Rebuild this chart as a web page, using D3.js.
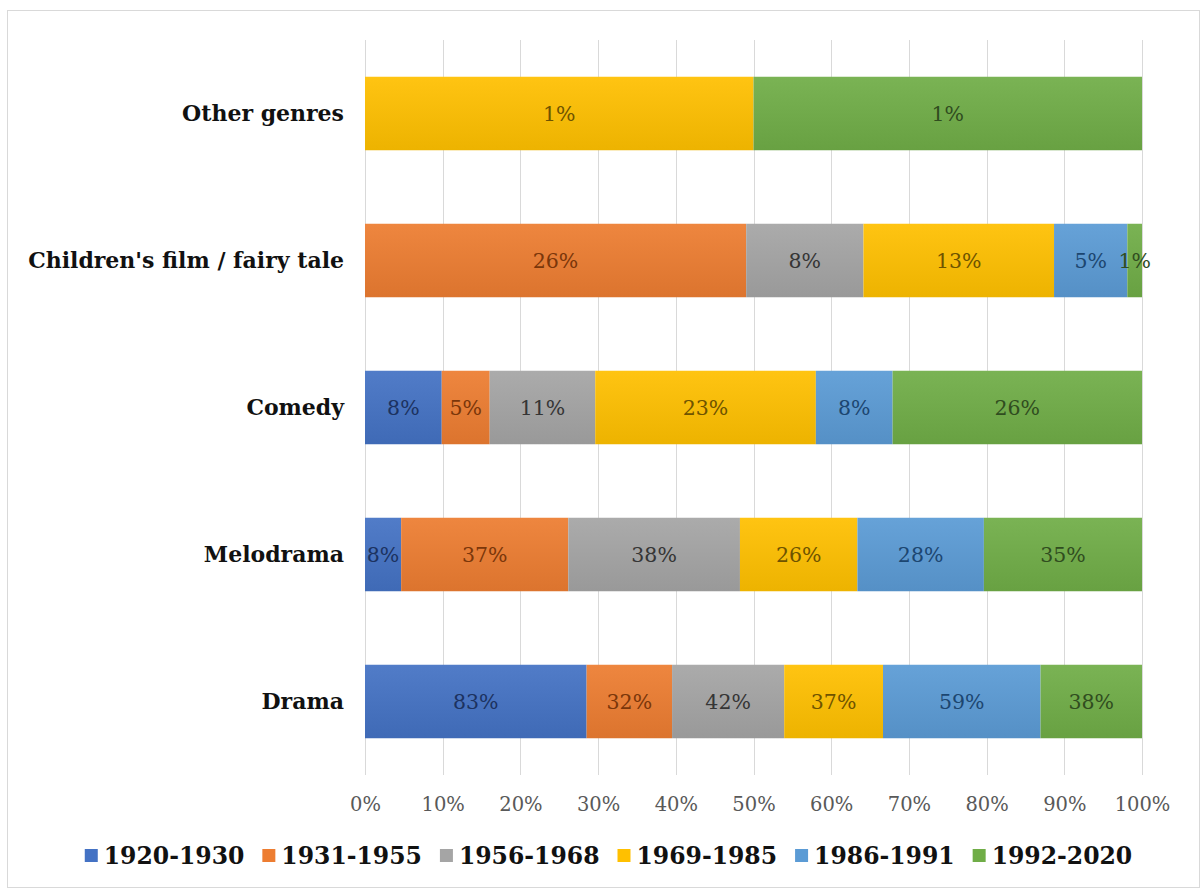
<!DOCTYPE html>
<html>
<head>
<meta charset="utf-8">
<script src="https://cdn.jsdelivr.net/npm/d3@7"></script>
<style>
  html, body { margin: 0; padding: 0; background: #fff; }
  svg { display: block; }
</style>
</head>
<body>
<svg id="chart" width="1202" height="889"></svg>
<script>
// ---- data ----
const genres = ["Other genres", "Children's film / fairy tale", "Comedy", "Melodrama", "Drama"];
const periods = ["1920-1930", "1931-1955", "1956-1968", "1969-1985", "1986-1991", "1992-2020"];
// values (%) per genre, in period order
const vOther     = [0, 0, 0, 1, 0, 1];
const vChildren  = [0, 26, 8, 13, 5, 1];
const vComedy    = [8, 5, 11, 23, 8, 26];
const vMelodrama = [8, 37, 38, 26, 28, 35];
const vDrama     = [83, 32, 42, 37, 59, 38];
const tickValues = [0, 0.1, 0.2, 0.3, 0.4, 0.5, 0.6, 0.7, 0.8, 0.9, 1.0];
const colors     = ["#4472C4", "#ED7D31", "#A5A5A5", "#FFC000", "#5B9BD5", "#70AD47"];
const labelColors= ["#1C3260", "#7A360A", "#353535", "#6E5300", "#1C4670", "#304D1F"];

const valueRows = [vOther, vChildren, vComedy, vMelodrama, vDrama];
const table = genres.map((g, i) => {
  const o = { genre: g };
  periods.forEach((p, j) => o[p] = valueRows[i][j]);
  return o;
});

// ---- layout ----
const svg = d3.select("#chart");
const FONT = "'DejaVu Serif', 'Liberation Serif', serif";
const plot = { left: 365, right: 1142, top: 40, bottom: 775 };

svg.append("rect")
  .attr("x", 7.5).attr("y", 10.5).attr("width", 1192).attr("height", 877)
  .attr("fill", "#fff").attr("stroke", "#D9D9D9").attr("stroke-width", 1);

const x = d3.scaleLinear().domain([0, 1]).range([plot.left, plot.right]);
const y = d3.scaleBand().domain(genres).range([plot.top, plot.bottom])
  .paddingInner(0.5).paddingOuter(0.25);

// gradients
const defs = svg.append("defs");
colors.forEach((c, i) => {
  const g = defs.append("linearGradient").attr("id", "grad" + i)
    .attr("x1", 0).attr("y1", 0).attr("x2", 0).attr("y2", 1);
  g.append("stop").attr("offset", "0%").attr("stop-color", d3.interpolateRgb(c, "#fff")(0.07));
  g.append("stop").attr("offset", "100%").attr("stop-color", d3.interpolateRgb(c, "#000")(0.07));
});

// gridlines
svg.append("g").selectAll("line").data(tickValues).join("line")
  .attr("x1", d => Math.round(x(d)) + 0.5).attr("x2", d => Math.round(x(d)) + 0.5)
  .attr("y1", plot.top).attr("y2", plot.bottom)
  .attr("stroke", "#D9D9D9").attr("stroke-width", 1);

// x axis labels
const xAxis = d3.axisBottom(x).tickValues(tickValues).tickFormat(d3.format(".0%")).tickSize(0).tickPadding(0);
const xg = svg.append("g").attr("transform", `translate(0, ${plot.bottom})`).call(xAxis);
xg.select(".domain").remove();
xg.selectAll("text").attr("font-family", FONT).attr("font-size", 19.5)
  .attr("fill", "#595959").attr("dy", null).attr("y", 36);

// y axis labels
const yAxis = d3.axisLeft(y).tickSize(0).tickPadding(21);
const yg = svg.append("g").attr("transform", `translate(${plot.left}, 0)`).call(yAxis);
yg.select(".domain").remove();
yg.selectAll("text").attr("font-family", FONT).attr("font-size", 22)
  .attr("font-weight", "bold").attr("fill", "#111");

// stacked bars
const stack = d3.stack().keys(periods).offset(d3.stackOffsetExpand);
const series = stack(table);

const layers = svg.append("g").selectAll("g").data(series).join("g")
  .attr("fill", (d, i) => `url(#grad${i})`);
layers.selectAll("rect").data(d => d).join("rect")
  .attr("x", d => x(d[0]))
  .attr("width", d => Math.max(0, x(d[1]) - x(d[0])))
  .attr("y", d => y(d.data.genre))
  .attr("height", y.bandwidth());

// data labels
const lbl = svg.append("g").selectAll("g").data(series).join("g")
  .attr("fill", (d, i) => labelColors[i]);
lbl.selectAll("text").data(d => d.filter(v => v.data[d.key] > 0).map(v => ({v, key: d.key}))).join("text")
  .attr("x", d => (x(d.v[0]) + x(d.v[1])) / 2)
  .attr("y", d => y(d.v.data.genre) + y.bandwidth() / 2)
  .attr("dy", "0.35em")
  .attr("text-anchor", "middle")
  .attr("font-family", FONT).attr("font-size", 20.5)
  .text(d => d.v.data[d.key] + "%");

// legend
const legend = svg.append("g").attr("transform", "translate(0, 856)");
let lx = 0;
const items = legend.selectAll("g").data(periods).join("g");
items.append("rect").attr("width", 13).attr("height", 13).attr("y", -7)
  .attr("fill", (d, i) => colors[i]);
items.append("text").attr("x", 19).attr("dy", "0.35em")
  .attr("font-family", FONT).attr("font-size", 23.5).attr("font-weight", "bold")
  .attr("fill", "#111").text(d => d);
const widths = [];
items.each(function() { widths.push(this.getBBox().width); });
const gap = 18;
const total = d3.sum(widths) + gap * (widths.length - 1);
lx = (87 + 1130) / 2 - total / 2;
items.attr("transform", (d, i) => {
  const t = `translate(${lx}, 0)`;
  lx += widths[i] + gap;
  return t;
});
</script>
</body>
</html>
